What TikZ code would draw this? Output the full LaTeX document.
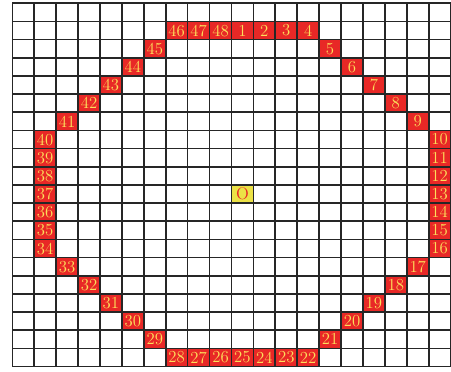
\documentclass[tikz,border=0pt]{standalone}
\usepackage{tikz}
\usetikzlibrary{positioning}
\usepackage{xcolor}

\definecolor{cellred}{RGB}{232,40,38}
\definecolor{textyellow}{RGB}{252,222,90}
\definecolor{originyellow}{RGB}{236,226,70}

\tikzset{
  gridline/.style={line width=1.2pt, draw=black!85},
  ringcell/.style={rectangle, draw=black!85, line width=1.2pt, fill=cellred,
      minimum width=0.55cm, minimum height=0.456cm, inner sep=0pt,
      text=textyellow, font=\large},
  origincell/.style={ringcell, fill=originyellow, text=cellred}
}

\begin{document}
\begin{tikzpicture}[x=0.55cm, y=0.456cm]
\useasboundingbox (-0.31cm,-0.134cm) rectangle (11.01cm,9.203cm);

% Grid
\draw[gridline, step=1] (0,0) grid (20,20);

% Ring of cells (column/row from top-left/label)
\foreach \c/\r/\n in {10/1/1, 11/1/2, 12/1/3, 13/1/4, 14/2/5, 15/3/6, 16/4/7,
    17/5/8, 18/6/9, 19/7/10, 19/8/11, 19/9/12, 19/10/13, 19/11/14, 19/12/15,
    19/13/16, 18/14/17, 17/15/18, 16/16/19, 15/17/20, 14/18/21, 13/19/22,
    12/19/23, 11/19/24, 10/19/25, 9/19/26, 8/19/27, 7/19/28, 6/18/29,
    5/17/30, 4/16/31, 3/15/32, 2/14/33, 1/13/34, 1/12/35, 1/11/36, 1/10/37,
    1/9/38, 1/8/39, 1/7/40, 2/6/41, 3/5/42, 4/4/43, 5/3/44, 6/2/45,
    7/1/46, 8/1/47, 9/1/48}
  \node[ringcell] (c\n) at (\c+0.5, 19.5-\r) {\n};

% Centre
\node[origincell] (origin) at (10.5, 9.5) {O};

\end{tikzpicture}
\end{document}
